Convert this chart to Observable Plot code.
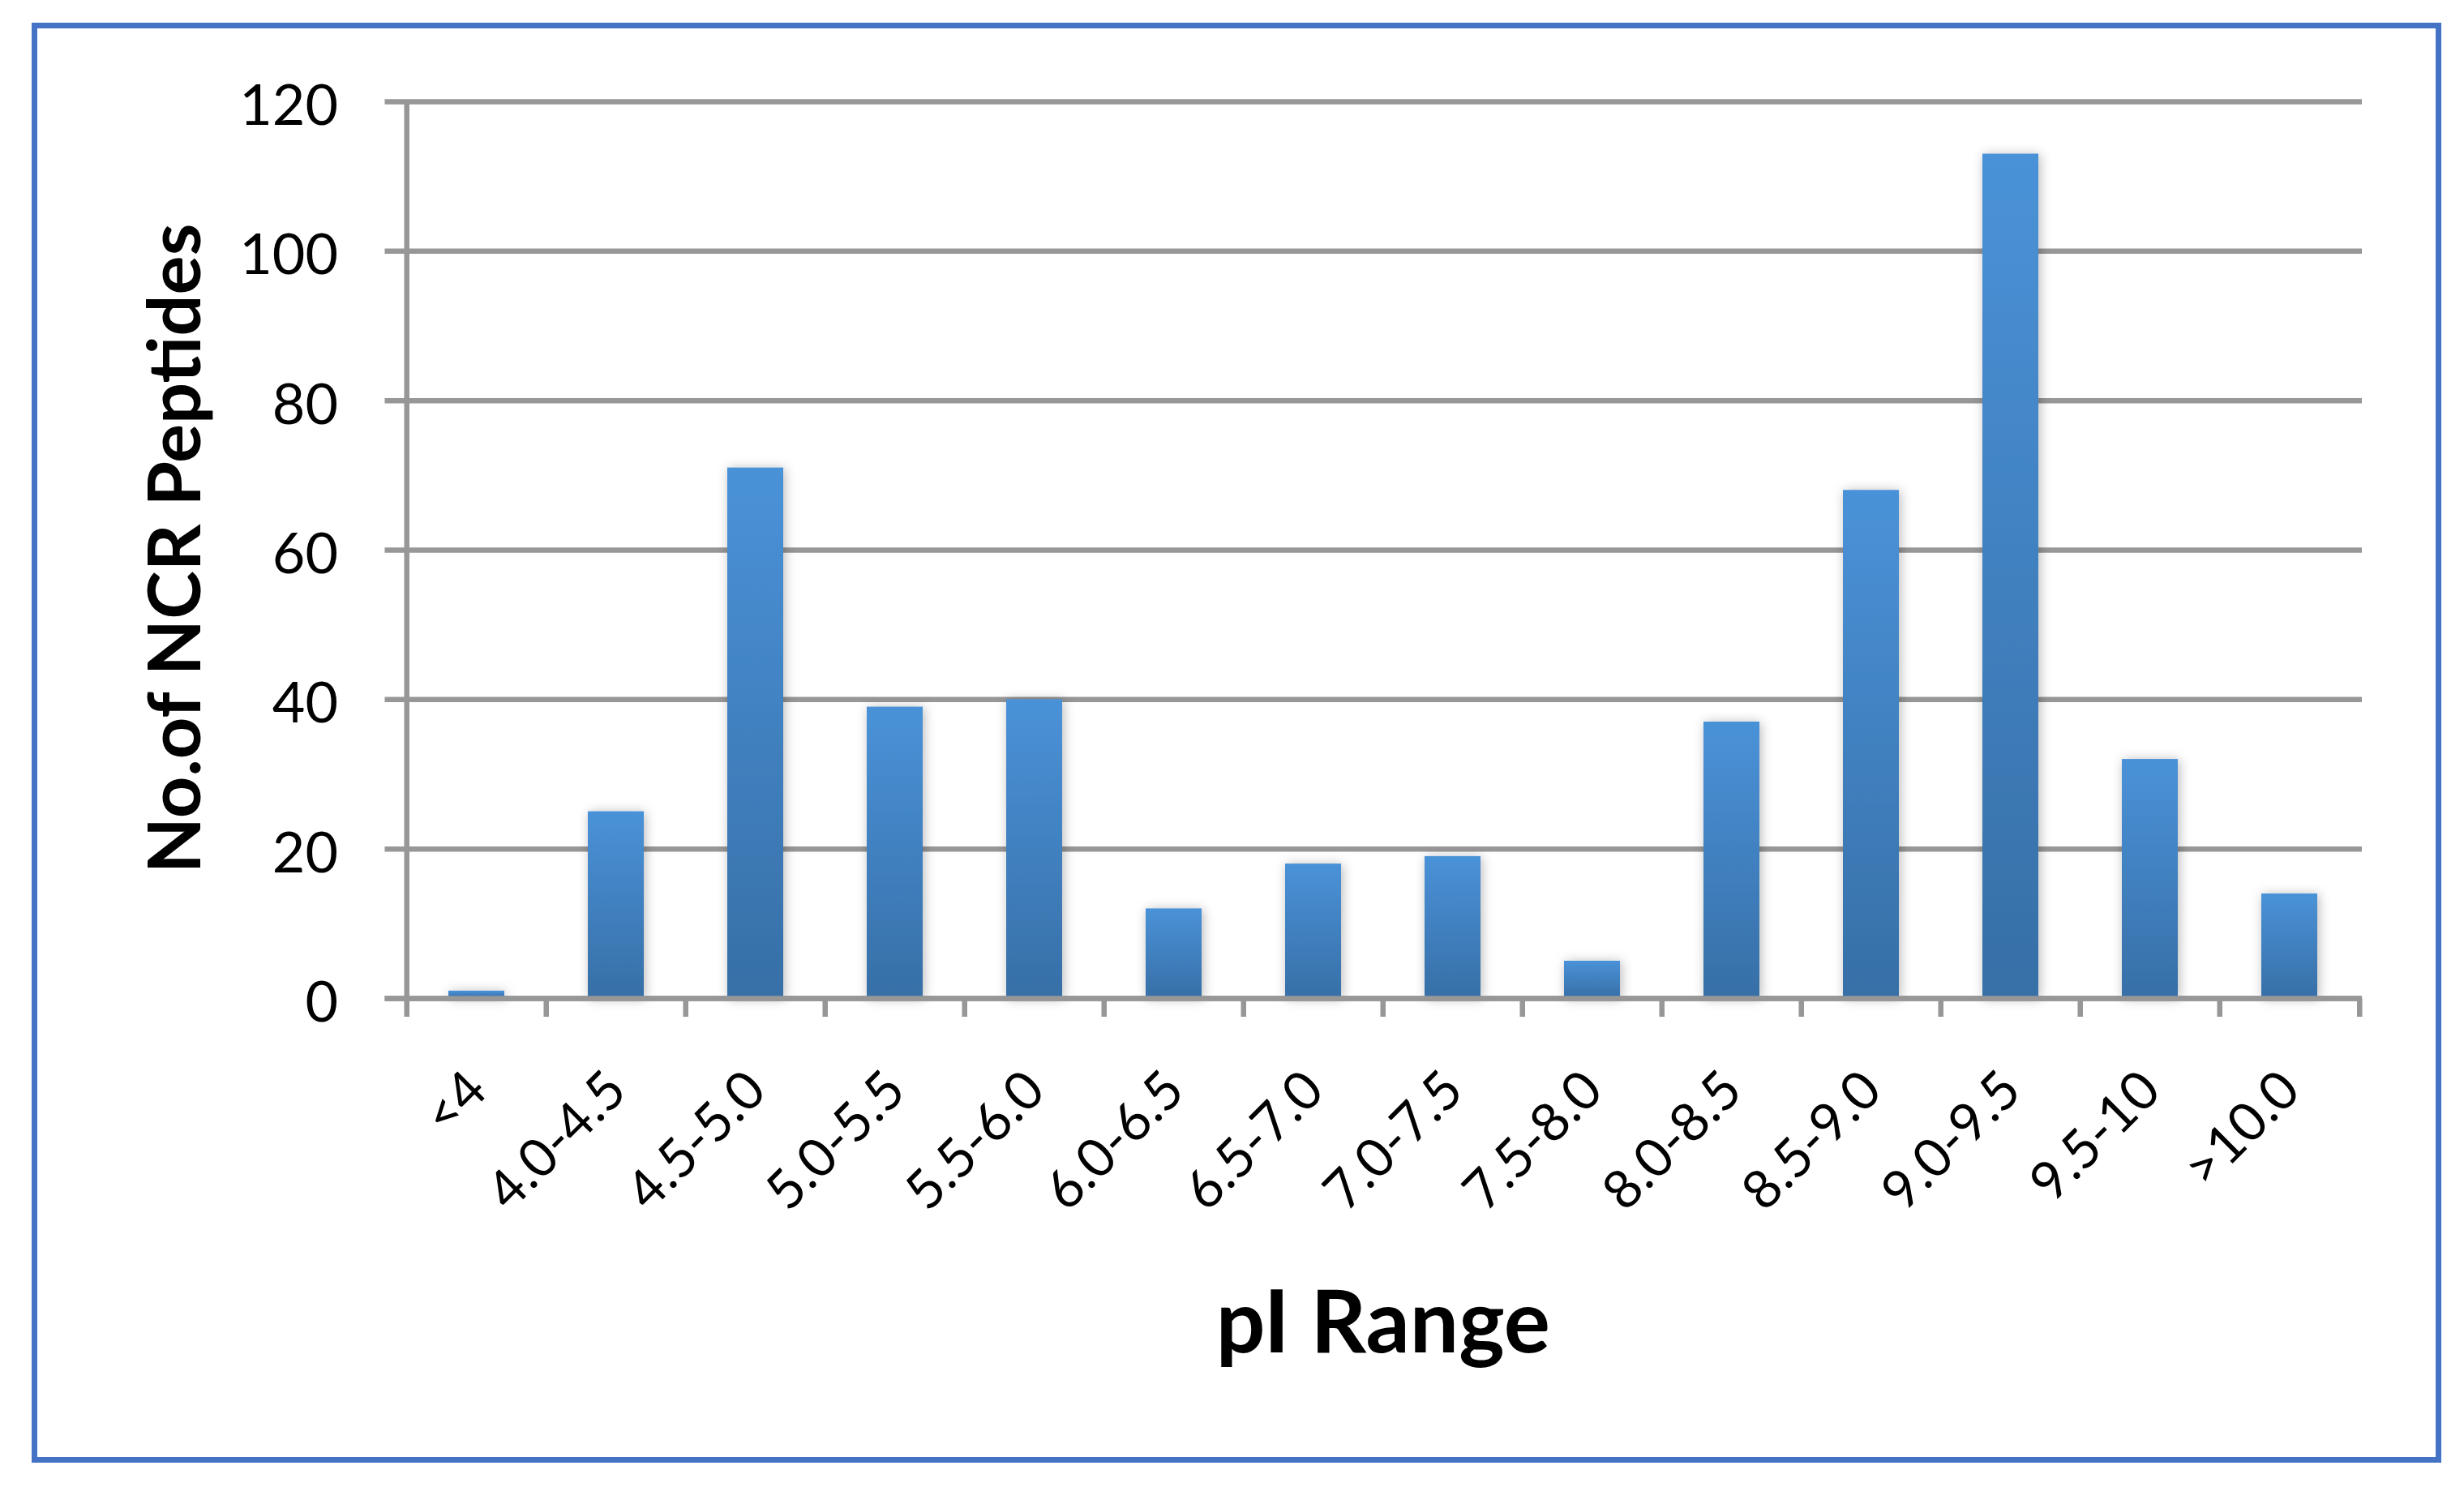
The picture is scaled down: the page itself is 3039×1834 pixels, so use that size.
<!DOCTYPE html>
<html>
<head>
<meta charset="utf-8">
<script src="https://cdn.jsdelivr.net/npm/d3@7"></script>
<script src="https://cdn.jsdelivr.net/npm/@observablehq/plot@0.6"></script>
<style>
  html, body { margin: 0; padding: 0; background: #ffffff; }
  #wrap { position: relative; width: 3039px; height: 1834px; overflow: hidden; background: #ffffff; }
  #wrap svg { position: absolute; left: 0; top: 0; }
  #border { position: absolute; left: 39px; top: 28px; width: 2958px; height: 1762px;
            border: 7px solid #4472C4; box-sizing: content-box; pointer-events: none; }
</style>
</head>
<body>
<div id="wrap"><div id="border"></div></div>
<script>
// ---- data ----
const categories = ["<4", "4.0-4.5", "4.5-5.0", "5.0-5.5", "5.5-6.0", "6.0-6.5", "6.5-7.0",
                    "7.0-7.5", "7.5-8.0", "8.0-8.5", "8.5-9.0", "9.0-9.5", "9.5-10", ">10.0"];
const counts = [1, 25, 71, 39, 40, 12, 18, 19, 5, 37, 68, 113, 32, 14];
const yTicks = [0, 20, 40, 60, 80, 100, 120];
const xTitle = "pI Range";
const yTitle = "No.of NCR Peptides";

const data = categories.map((range, i) => ({range, count: counts[i]}));

// ---- styling ----
const W = 3039, H = 1834;
const mL = 497.5, mR = 126, mT = 125, mB = 603;
const step = (W - mL - mR) / categories.length;
const gridColor = "#979797";
const lineW = 6.5;

const defs = () => {
  const ns = "http://www.w3.org/2000/svg";
  const d = document.createElementNS(ns, "defs");
  d.innerHTML =
    '<linearGradient id="barGrad" x1="0" y1="0" x2="0" y2="1">' +
      '<stop offset="0" stop-color="#4A92D8"/>' +
      '<stop offset="1" stop-color="#376FA7"/>' +
    '</linearGradient>' +
    '<filter id="barShadow" x="-60%" y="-10%" width="220%" height="130%">' +
      '<feDropShadow dx="2" dy="1" stdDeviation="7" flood-color="#000" flood-opacity="0.28"/>' +
    '</filter>';
  return d;
};

const chart = Plot.plot({
  width: W,
  height: H,
  marginLeft: mL,
  marginRight: mR,
  marginTop: mT,
  marginBottom: mB,
  style: {fontFamily: "Lato, 'Noto Sans', sans-serif", background: "transparent", color: "#000"},
  x: {type: "band", domain: categories, paddingInner: 0.6, paddingOuter: 0.3, axis: null},
  y: {domain: [0, 120], axis: null},
  marks: [
    defs,
    // horizontal gridlines (with the left tick stubs)
    Plot.ruleY(yTicks, {stroke: gridColor, strokeWidth: lineW, insetLeft: -23}),
    // bars
    Plot.barY(data, {x: "range", y: "count", fill: "url(#barGrad)"}),
    // horizontal axis line on top of bars
    Plot.ruleY([0], {stroke: gridColor, strokeWidth: lineW, insetLeft: -23}),
    // vertical axis line
    Plot.ruleX([categories[0]], {x: d => d, y1: 0, y2: 120, dx: -step / 2, stroke: gridColor, strokeWidth: lineW}),
    // category boundary ticks below the axis
    Plot.ruleX(categories, {x: d => d, y1: 0, y2: 0, insetBottom: -23, dx: -step / 2, stroke: gridColor, strokeWidth: lineW}),
    Plot.ruleX([categories[categories.length - 1]], {x: d => d, y1: 0, y2: 0, insetBottom: -23, dx: step / 2, stroke: gridColor, strokeWidth: lineW}),
    // y tick labels
    Plot.axisY({ticks: yTicks, tickSize: 0, tickPadding: 81, fontSize: 70, dy: 6, label: null, tickFormat: d => String(d)}),
    // x tick labels (rotated)
    Plot.text(categories, {x: d => d, text: d => d, frameAnchor: "bottom", rotate: -45,
                           textAnchor: "end", lineAnchor: "bottom", dx: 16, dy: 117, fontSize: 66, fill: "#000"}),
    // axis titles
    Plot.text([yTitle], {text: d => d, frameAnchor: "left", rotate: -90, textAnchor: "middle",
                         lineAnchor: "bottom", dx: -251, dy: -2, fontSize: 90, fontWeight: "bold", fill: "#000"}),
    Plot.text([xTitle], {text: d => d, frameAnchor: "bottom", textAnchor: "middle",
                         lineAnchor: "bottom", dy: 436, fontSize: 107, fontWeight: "bold", fill: "#000"})
  ]
});

const barGroup = chart.querySelector('g[aria-label="bar"]');
if (barGroup) barGroup.setAttribute("filter", "url(#barShadow)");

const wrap = document.getElementById("wrap");
wrap.insertBefore(chart, wrap.firstChild);
</script>
</body>
</html>
